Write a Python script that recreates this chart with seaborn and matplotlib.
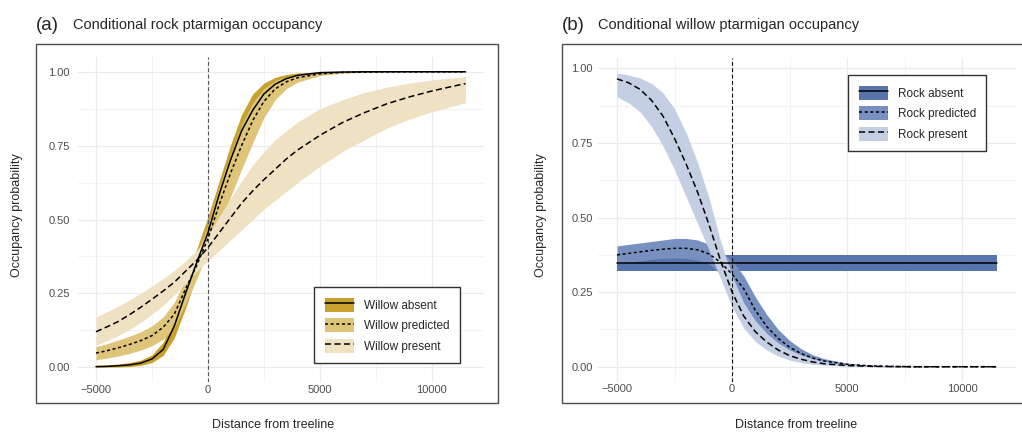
import numpy as np
import pandas as pd
import matplotlib
matplotlib.use("Agg")
import matplotlib.pyplot as plt
import seaborn as sns
from matplotlib.patches import Patch, Rectangle
from matplotlib.lines import Line2D
from matplotlib.legend_handler import HandlerTuple
from matplotlib.ticker import MultipleLocator, FormatStrFormatter

sns.set_theme(style="white")
plt.rcParams["font.family"] = ["Liberation Sans", "DejaVu Sans"]
plt.rcParams["axes.unicode_minus"] = True

# Distance from treeline (m) at which the predictions are tabulated
DIST = [-5000, -4500, -4000, -3500, -3000, -2500, -2000, -1500, -1000, -500, 0,
        500, 1000, 1500, 2000, 2500, 3000, 3500, 4000, 5000, 6000, 7000, 8000,
        9000, 10000, 11000, 11500]

# (a) rock ptarmigan occupancy conditional on willow ptarmigan
ROCK_W_ABSENT = [0.002, 0.003, 0.005, 0.008, 0.014, 0.028, 0.06, 0.14, 0.25, 0.355, 0.455,
                 0.585, 0.70, 0.80, 0.87, 0.925, 0.958, 0.977, 0.988, 0.997, 0.999, 1.0, 1.0,
                 1.0, 1.0, 1.0, 1.0]
ROCK_W_ABSENT_LO = [0.0, 0.0, 0.001, 0.002, 0.006, 0.016, 0.04, 0.10, 0.20, 0.31, 0.40,
                    0.52, 0.64, 0.75, 0.83, 0.895, 0.94, 0.962, 0.977, 0.992, 0.997, 0.999, 1.0,
                    1.0, 1.0, 1.0, 1.0]
ROCK_W_ABSENT_HI = [0.006, 0.008, 0.011, 0.016, 0.024, 0.042, 0.085, 0.17, 0.29, 0.40, 0.51,
                    0.63, 0.75, 0.855, 0.925, 0.962, 0.981, 0.991, 0.996, 0.999, 1.0, 1.0, 1.0,
                    1.0, 1.0, 1.0, 1.0]
ROCK_W_PRED = [0.048, 0.056, 0.066, 0.077, 0.09, 0.107, 0.135, 0.18, 0.265, 0.345, 0.435,
               0.55, 0.655, 0.75, 0.835, 0.9, 0.942, 0.966, 0.98, 0.993, 0.998, 0.999, 1.0,
               1.0, 1.0, 1.0, 1.0]
ROCK_W_PRED_LO = [0.025, 0.031, 0.038, 0.047, 0.058, 0.073, 0.095, 0.135, 0.215, 0.30, 0.39,
                  0.48, 0.575, 0.67, 0.76, 0.845, 0.905, 0.943, 0.965, 0.987, 0.995, 0.998, 0.999,
                  1.0, 1.0, 1.0, 1.0]
ROCK_W_PRED_HI = [0.07, 0.08, 0.092, 0.105, 0.12, 0.14, 0.17, 0.22, 0.30, 0.385, 0.48,
                  0.61, 0.72, 0.82, 0.895, 0.943, 0.97, 0.983, 0.99, 0.997, 0.999, 1.0, 1.0,
                  1.0, 1.0, 1.0, 1.0]
ROCK_W_PRESENT = [0.12, 0.137, 0.155, 0.178, 0.203, 0.23, 0.258, 0.288, 0.325, 0.362, 0.405,
                  0.455, 0.505, 0.555, 0.597, 0.635, 0.67, 0.705, 0.735, 0.785, 0.828, 0.862,
                  0.892, 0.915, 0.935, 0.952, 0.96]
ROCK_W_PRESENT_LO = [0.075, 0.09, 0.107, 0.128, 0.152, 0.18, 0.21, 0.245, 0.285, 0.325, 0.36,
                     0.395, 0.43, 0.465, 0.50, 0.535, 0.565, 0.595, 0.625, 0.68, 0.73, 0.77,
                     0.81, 0.84, 0.865, 0.885, 0.895]
ROCK_W_PRESENT_HI = [0.17, 0.188, 0.207, 0.228, 0.25, 0.275, 0.30, 0.328, 0.36, 0.395, 0.445,
                     0.51, 0.57, 0.63, 0.685, 0.73, 0.77, 0.80, 0.83, 0.875, 0.905, 0.93,
                     0.948, 0.962, 0.972, 0.98, 0.984]

# (b) willow ptarmigan occupancy conditional on rock ptarmigan
WILLOW_R_ABSENT = 0.348
WILLOW_R_ABSENT_LO = 0.322
WILLOW_R_ABSENT_HI = 0.375
WILLOW_R_PRED = [0.375, 0.38, 0.385, 0.39, 0.394, 0.397, 0.397, 0.392, 0.378, 0.35, 0.31,
                 0.262, 0.19, 0.135, 0.095, 0.065, 0.044, 0.029, 0.019, 0.008, 0.003, 0.001,
                 0.0, 0.0, 0.0, 0.0, 0.0]
WILLOW_R_PRED_LO = [0.345, 0.35, 0.355, 0.36, 0.363, 0.365, 0.363, 0.357, 0.345, 0.31, 0.265,
                    0.21, 0.15, 0.105, 0.07, 0.045, 0.028, 0.017, 0.01, 0.003, 0.001, 0.0,
                    0.0, 0.0, 0.0, 0.0, 0.0]
WILLOW_R_PRED_HI = [0.405, 0.41, 0.415, 0.42, 0.425, 0.43, 0.43, 0.425, 0.41, 0.385, 0.355,
                    0.305, 0.235, 0.175, 0.125, 0.088, 0.06, 0.04, 0.027, 0.012, 0.005, 0.002,
                    0.001, 0.0, 0.0, 0.0, 0.0]
WILLOW_R_PRESENT = [0.965, 0.952, 0.93, 0.893, 0.84, 0.765, 0.68, 0.585, 0.475, 0.355, 0.25,
                    0.17, 0.118, 0.083, 0.056, 0.037, 0.025, 0.016, 0.01, 0.004, 0.0015, 0.0005,
                    0.0, 0.0, 0.0, 0.0, 0.0]
WILLOW_R_PRESENT_LO = [0.905, 0.885, 0.855, 0.805, 0.74, 0.66, 0.57, 0.48, 0.39, 0.295, 0.2,
                       0.13, 0.085, 0.056, 0.036, 0.022, 0.014, 0.008, 0.005, 0.001, 0.0, 0.0,
                       0.0, 0.0, 0.0, 0.0, 0.0]
WILLOW_R_PRESENT_HI = [0.985, 0.978, 0.968, 0.95, 0.918, 0.865, 0.785, 0.685, 0.565, 0.42, 0.305,
                       0.215, 0.155, 0.112, 0.08, 0.056, 0.039, 0.027, 0.018, 0.008, 0.003, 0.001,
                       0.0, 0.0, 0.0, 0.0, 0.0]

LABELS_A = ["Willow absent", "Willow predicted", "Willow present"]
LABELS_B = ["Rock absent", "Rock predicted", "Rock present"]
GOLDS = ["#C9A22E", "#DFC57A", "#EEE2C3"]
BLUES = ["#5874AC", "#7890C0", "#C5CFE3"]
DASHES = ["", (2.0, 1.7), (4.0, 2.2)]
LW = 1.1

W, H = 1022, 438
fig = plt.figure(figsize=(W / 100, H / 100), dpi=100)


def px_axes(left, right, top, bottom):
    return fig.add_axes([left / W, 1 - bottom / H, (right - left) / W, (bottom - top) / H])


def draw_panel(ax, labels, colors, series, ylim, vcolor, ylabpad):
    # ribbons first, absent -> predicted -> present
    for (mean, lo, hi), col in zip(series, colors):
        ax.fill_between(DIST, lo, hi, color=col, lw=0, zorder=1)
    ax.axvline(0, color=vcolor, lw=0.8, dashes=(3.5, 2.2), zorder=2)
    frames = []
    for lab, (mean, lo, hi) in zip(labels, series):
        frames.append(pd.DataFrame({"dist": DIST, "occ": mean, "status": lab}))
    df = pd.concat(frames, ignore_index=True)
    sns.lineplot(data=df, x="dist", y="occ", style="status", style_order=labels,
                 dashes=dict(zip(labels, DASHES)), color="black", lw=LW,
                 errorbar=None, legend=False, ax=ax, zorder=3)
    ax.set_xlim(-5825, 12325)
    ax.set_ylim(*ylim)
    ax.set_xticks([-5000, 0, 5000, 10000])
    ax.xaxis.set_minor_locator(MultipleLocator(2500))
    ax.set_yticks([0, 0.25, 0.5, 0.75, 1.0])
    ax.yaxis.set_minor_locator(MultipleLocator(0.125))
    ax.yaxis.set_major_formatter(FormatStrFormatter("%.2f"))
    ax.grid(which="major", color="#EBEBEB", lw=0.9, zorder=0)
    ax.grid(which="minor", color="#F1F1F1", lw=0.6, zorder=0)
    ax.set_axisbelow(True)
    for s in ax.spines.values():
        s.set_visible(False)
    ax.tick_params(which="both", length=0, labelsize=8, labelcolor="#4D4D4D")
    ax.tick_params(axis="x", pad=2)
    ax.tick_params(axis="y", pad=ylabpad)
    ax.set_xlabel("")
    ax.set_ylabel("")
    ax.set_facecolor("white")

    handles = []
    for col, d in zip(colors, DASHES):
        ln = Line2D([], [], color="black", lw=LW)
        if d:
            ln.set_dashes(d)
        handles.append((Patch(facecolor=col, edgecolor="none"), ln))
    return handles


ax_a = px_axes(77.5, 484, 57, 382)
ax_b = px_axes(598, 1016, 58, 381.5)

series_a = [(ROCK_W_ABSENT, ROCK_W_ABSENT_LO, ROCK_W_ABSENT_HI),
            (ROCK_W_PRED, ROCK_W_PRED_LO, ROCK_W_PRED_HI),
            (ROCK_W_PRESENT, ROCK_W_PRESENT_LO, ROCK_W_PRESENT_HI)]
n = len(DIST)
series_b = [(np.full(n, WILLOW_R_ABSENT), np.full(n, WILLOW_R_ABSENT_LO), np.full(n, WILLOW_R_ABSENT_HI)),
            (WILLOW_R_PRED, WILLOW_R_PRED_LO, WILLOW_R_PRED_HI),
            (WILLOW_R_PRESENT, WILLOW_R_PRESENT_LO, WILLOW_R_PRESENT_HI)]

h_a = draw_panel(ax_a, LABELS_A, GOLDS, series_a, (-0.05, 1.05), "#555555", 5.5)
h_b = draw_panel(ax_b, LABELS_B, BLUES, series_b, (-0.0495, 1.035), "#111111", 3.8)

leg_kw = dict(fontsize=8.5, frameon=True, fancybox=False, framealpha=1, edgecolor="#333333",
              handlelength=2.45, handleheight=1.45, labelspacing=0.55, handletextpad=0.85,
              borderpad=0.9, borderaxespad=0, loc="upper left",
              handler_map={tuple: HandlerTuple(ndivide=1, pad=0)},
              bbox_transform=fig.transFigure)
la = ax_a.legend(h_a, LABELS_A, bbox_to_anchor=(314 / W, 1 - 287 / H), **leg_kw)
lb = ax_b.legend(h_b, LABELS_B, bbox_to_anchor=(848 / W, 1 - 75 / H), **leg_kw)
for lg in (la, lb):
    lg.get_frame().set_linewidth(1.0)
    lg.set_zorder(5)

# outer frames around each panel
for x0, x1 in [(36, 498), (562, 1031)]:
    fig.add_artist(Rectangle((x0 / W, 1 - 403 / H), (x1 - x0) / W, 359.5 / H,
                             transform=fig.transFigure, fill=False,
                             edgecolor="#4D4D4D", lw=1.0))

# panel titles
fig.text(36 / W, 1 - 29.5 / H, "(a)", fontsize=13.5, va="baseline", ha="left")
fig.text(72.7 / W, 1 - 29.5 / H, "Conditional rock ptarmigan occupancy", fontsize=10.5,
         va="baseline", ha="left")
fig.text(562 / W, 1 - 29.5 / H, "(b)", fontsize=13.5, va="baseline", ha="left")
fig.text(598 / W, 1 - 29.5 / H, "Conditional willow ptarmigan occupancy", fontsize=10.5,
         va="baseline", ha="left")

# axis titles
for xc in (17, 541):
    fig.text(xc / W, 1 - 215 / H, "Occupancy probability", rotation=90, fontsize=9,
             ha="center", va="center")
for xc in (273, 796):
    fig.text(xc / W, 1 - 425 / H, "Distance from treeline", fontsize=9,
             ha="center", va="center")

fig.savefig("out.png", dpi=100, facecolor="white")
